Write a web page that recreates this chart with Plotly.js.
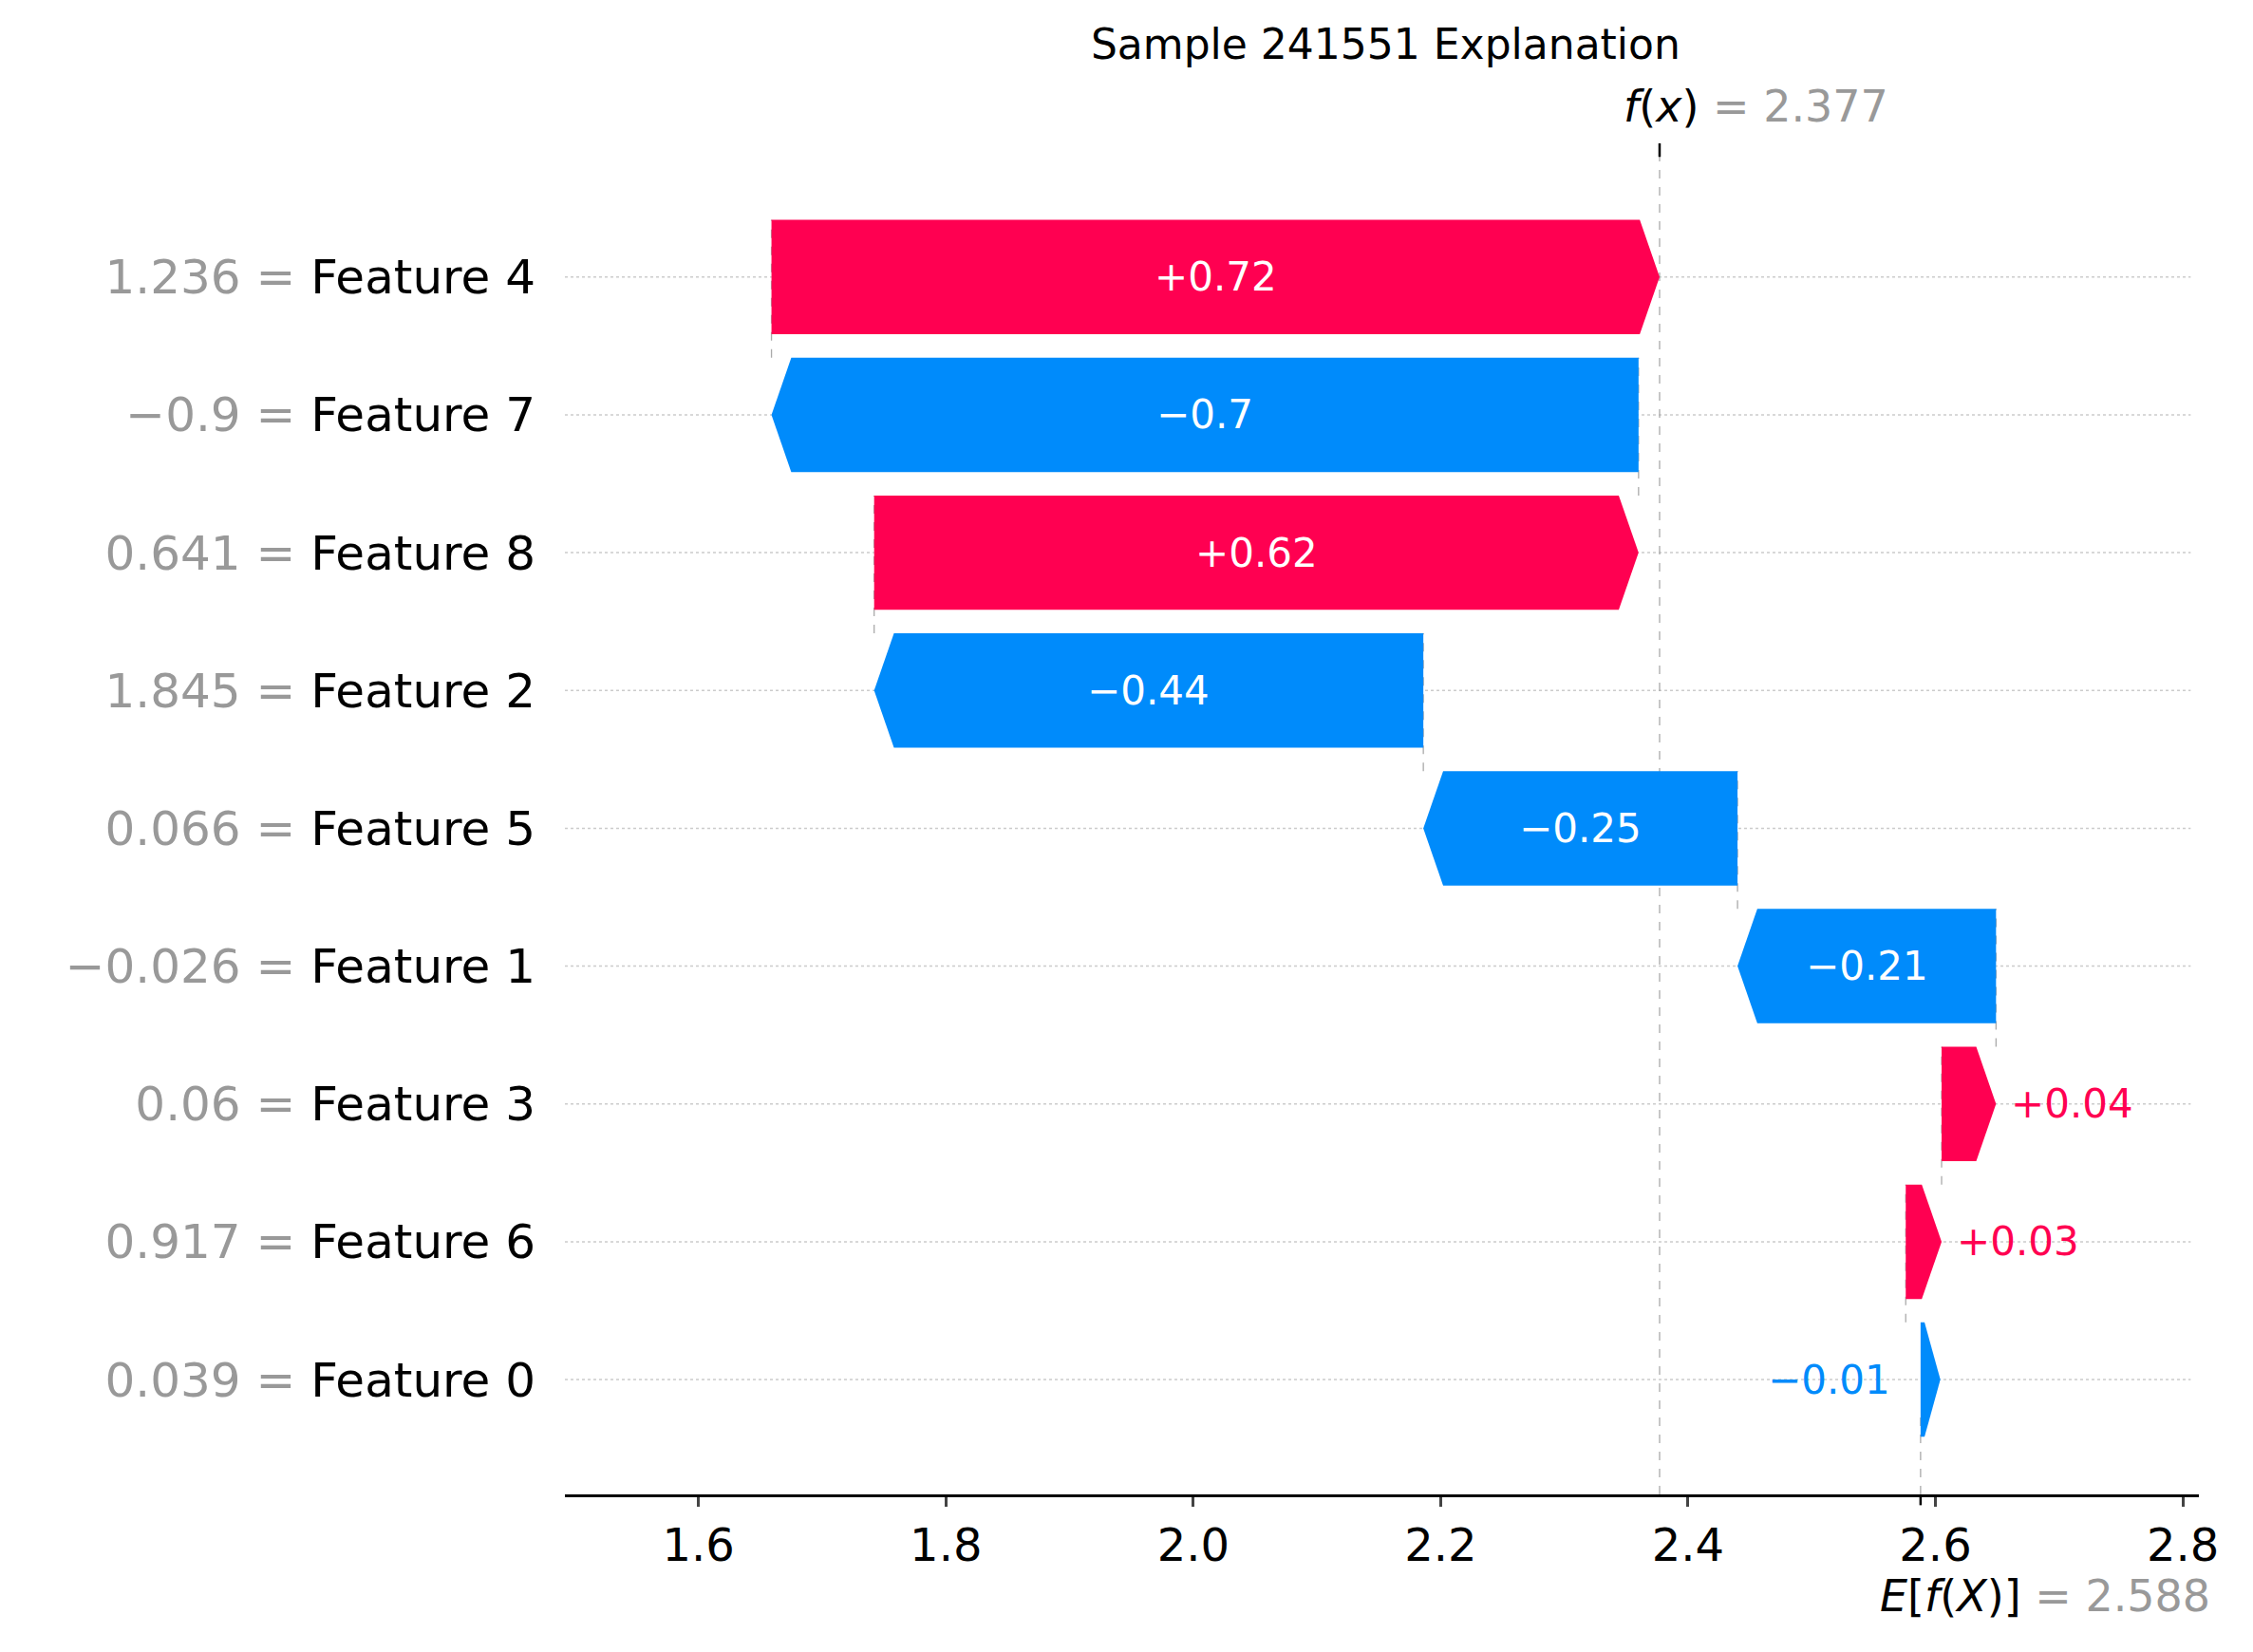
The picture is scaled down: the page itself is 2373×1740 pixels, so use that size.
<!DOCTYPE html>
<html><head><script src="https://cdn.plot.ly/plotly-3.0.1.min.js"></script></head>
<body style="margin:0">
<div id="c" style="width:2373px;height:1740px"></div>
<script>
const features = ["Feature 0","Feature 6","Feature 3","Feature 1","Feature 5","Feature 2","Feature 8","Feature 7","Feature 4"];
const featureValues = ["0.039","0.917","0.06","\u22120.026","0.066","1.845","0.641","\u22120.9","1.236"];
const shapValues = [-0.012,0.029,0.044,-0.209,-0.254,-0.444,0.618,-0.701,0.718];
const shapLabels = ["\u22120.01","+0.03","+0.04","\u22120.21","\u22120.25","\u22120.44","+0.62","\u22120.7","+0.72"];
const baseValue = 2.588;
const fx = 2.377;

const RED = "#ff0051", BLUE = "#008bfb";
const shapes = [], ann = [];
const hh = 0.415, head = 0.016;
const F = "DejaVu Sans";
let cur = baseValue;
shapValues.forEach((v, i) => {
  const s = cur, e = cur + v; cur = e;
  const col = v > 0 ? RED : BLUE;
  let dir = v > 0 ? 1 : -1;
  let hl = Math.min(head, Math.abs(v));
  let tip = e, base = s;
  if (Math.abs(v) < head) { dir = 1; base = s; tip = s + head; hl = head * 0.8; }
  const neck = tip - dir * hl;
  const path = `M${base},${i - hh} L${neck},${i - hh} L${tip},${i} L${neck},${i + hh} L${base},${i + hh} Z`;
  shapes.push({type: "path", path, fillcolor: col, line: {width: 0}, layer: "above"});
  if (Math.abs(v) > 0.1) {
    ann.push({x: (s + e) / 2, y: i, text: shapLabels[i], showarrow: false, font: {color: "white", size: 42, family: F}});
  } else {
    const right = Math.max(s, e, tip), left = Math.min(s, e, base);
    ann.push(v > 0 ? {x: right, y: i, text: shapLabels[i], showarrow: false, xanchor: "left", xshift: 14, font: {color: col, size: 42, family: F}}
                   : {x: left, y: i, text: shapLabels[i], showarrow: false, xanchor: "right", xshift: -14, font: {color: col, size: 42, family: F}});
  }
  shapes.push({type: "line", xref: "paper", x0: 0, x1: 0.995, y0: i, y1: i, line: {color: "#cccccc", width: 1.5, dash: "dot"}, layer: "below"});
  if (i > 0) shapes.push({type: "line", x0: s, x1: s, y0: i - 1 + hh, y1: i + hh, line: {color: "#aaaaaa", width: 1.3, dash: "dash"}, layer: "below"});
});
shapes.push({type: "line", x0: fx, x1: fx, yref: "paper", y0: 0, y1: 1.0, line: {color: "#aaaaaa", width: 1.3, dash: "dash"}, layer: "below"});
shapes.push({type: "line", x0: fx, x1: fx, yref: "paper", y0: 0.99, y1: 1.0, line: {color: "black", width: 2.5}});
shapes.push({type: "line", x0: baseValue, x1: baseValue, yref: "paper", y0: 0, y1: 0.06, line: {color: "#aaaaaa", width: 1.3, dash: "dash"}, layer: "below"});
shapes.push({type: "line", x0: baseValue, x1: baseValue, yref: "paper", y0: 0, y1: -0.008, line: {color: "black", width: 2.5}});

ann.push({x: fx, yref: "paper", y: 1.0, yshift: 10, yanchor: "bottom", xanchor: "left", xshift: -40, showarrow: false,
  text: "<i>f</i>(<i>x</i>) <span style='color:#999'>= 2.377</span>", font: {size: 46, family: F, color: "black"}});
ann.push({xref: "paper", x: 1.008, yref: "paper", y: 0, yshift: -78, yanchor: "top", xanchor: "right", showarrow: false,
  text: "<i>E</i>[<i>f</i>(<i>X</i>)] <span style='color:#999'>= 2.588</span>", font: {size: 46, family: F, color: "black"}});

const tickText = features.map((f, i) => `<span style="color:#999">${featureValues[i]} = </span>${f}`);

Plotly.newPlot("c", [{x: [1.6, 2.8], y: [0, 8], mode: "markers", marker: {opacity: 0}, hoverinfo: "skip", showlegend: false}], {
  width: 2373, height: 1740,
  margin: {l: 595, r: 57, t: 151, b: 166},
  paper_bgcolor: "white", plot_bgcolor: "white",
  title: {text: "Sample 241551 Explanation", x: 0.615, xanchor: "center", y: 0.982, yanchor: "top", font: {size: 44, family: F, color: "black"}},
  xaxis: {range: [1.492, 2.813], tickvals: [1.6, 1.8, 2.0, 2.2, 2.4, 2.6, 2.8], ticktext: ["1.6","1.8","2.0","2.2","2.4","2.6","2.8"],
    showgrid: false, zeroline: false, showline: true, linecolor: "black", linewidth: 2.5, ticks: "outside", ticklen: 10, tickwidth: 2.5,
    tickfont: {size: 48, family: F, color: "black"}},
  yaxis: {range: [-0.833, 8.97], tickvals: features.map((f, i) => i), ticktext: tickText, showgrid: false, zeroline: false, showline: false,
    ticks: "", ticklabelstandoff: 30, tickfont: {size: 50, family: F, color: "black"}},
  shapes, annotations: ann
}, {displayModeBar: false});
</script></body></html>
